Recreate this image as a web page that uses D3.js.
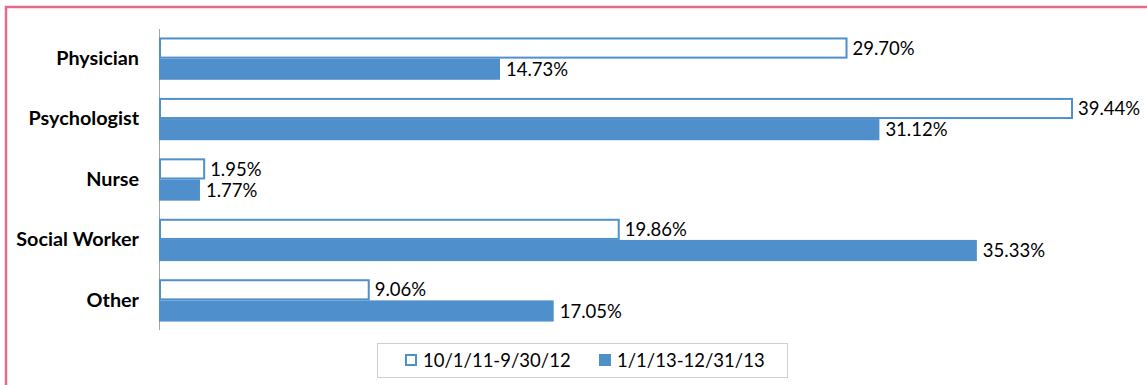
<!DOCTYPE html>
<html>
<head>
<meta charset="utf-8">
<script src="https://cdn.jsdelivr.net/npm/d3@7"></script>
<style>
  html, body { margin: 0; padding: 0; background: #fff; }
  svg { display: block; font-family: Lato, "Open Sans", sans-serif; }
</style>
</head>
<body>
<svg id="chart" width="1147" height="385"></svg>
<script>
const categories = ["Physician", "Psychologist", "Nurse", "Social Worker", "Other"];
const seriesNames = ["10/1/11-9/30/12", "1/1/13-12/31/13"];
const period1 = [29.70, 39.44, 1.95, 19.86, 9.06];
const period2 = [14.73, 31.12, 1.77, 35.33, 17.05];

const blue = "#4F8FCC";
const svg = d3.select("#chart");

// outer frame
svg.append("path")
  .attr("d", "M6,385 V7 H1147")
  .attr("fill", "none")
  .attr("stroke", "#E46C8A")
  .attr("stroke-width", 2.5);

const plotLeft = 159, plotTop = 29, plotBottom = 330;
const x = d3.scaleLinear().domain([0, 39.44]).range([plotLeft, 1072]);
const y = d3.scaleBand().domain(categories).range([plotTop, plotBottom]).paddingInner(0.3).paddingOuter(0.14);
const inner = d3.scaleBand().domain([0, 1]).range([0, y.bandwidth()]);

// category axis
const yAxis = svg.append("g")
  .attr("transform", `translate(${plotLeft},0)`)
  .call(d3.axisLeft(y).tickSize(0).tickPadding(20));
yAxis.select(".domain").remove();
yAxis.selectAll("text")
  .attr("font-size", 19.8)
  .attr("font-weight", "bold")
  .attr("fill", "#000")
  .attr("font-family", "Lato, 'Open Sans', sans-serif");
svg.append("line")
  .attr("x1", plotLeft + 0.5).attr("x2", plotLeft + 0.5)
  .attr("y1", plotTop).attr("y2", plotBottom)
  .attr("stroke", "#A6A6A6").attr("stroke-width", 1);

const rows = categories.map((c, i) => ({ c, v: [period1[i], period2[i]] }));

const g = svg.append("g");
rows.forEach(r => {
  // hollow bar
  g.append("rect")
    .attr("x", x(0) + 1)
    .attr("y", y(r.c) + inner(0) + 1)
    .attr("width", x(r.v[0]) - x(0) - 1)
    .attr("height", inner.bandwidth() - 2)
    .attr("fill", "#fff")
    .attr("stroke", blue)
    .attr("stroke-width", 2);
  // filled bar
  g.append("rect")
    .attr("x", x(0))
    .attr("y", y(r.c) + inner(1))
    .attr("width", x(r.v[1]) - x(0))
    .attr("height", inner.bandwidth())
    .attr("fill", blue);
  r.v.forEach((v, k) => {
    g.append("text")
      .attr("x", x(v) + 6)
      .attr("y", y(r.c) + inner(k) + inner.bandwidth() / 2)
      .attr("dy", "0.36em")
      .attr("font-size", 18.5)
      .attr("fill", "#000")
      .text(v.toFixed(2) + "%");
  });
});

// legend
const lg = svg.append("g");
lg.append("rect")
  .attr("x", 377.5).attr("y", 343.5).attr("width", 410).attr("height", 34)
  .attr("fill", "#fff").attr("stroke", "#D0D0D0");
const lx = [405, 599];
seriesNames.forEach((s, k) => {
  lg.append("rect")
    .attr("x", lx[k] + (k === 0 ? 1 : 0))
    .attr("y", 354 + (k === 0 ? 1 : 0))
    .attr("width", k === 0 ? 10 : 12)
    .attr("height", k === 0 ? 10 : 12)
    .attr("fill", k === 0 ? "#fff" : blue)
    .attr("stroke", k === 0 ? blue : "none")
    .attr("stroke-width", 2);
  lg.append("text")
    .attr("x", lx[k] + 18)
    .attr("y", 360)
    .attr("dy", "0.36em")
    .attr("font-size", 18.5)
    .attr("fill", "#000")
    .text(s);
});
</script>
</body>
</html>
